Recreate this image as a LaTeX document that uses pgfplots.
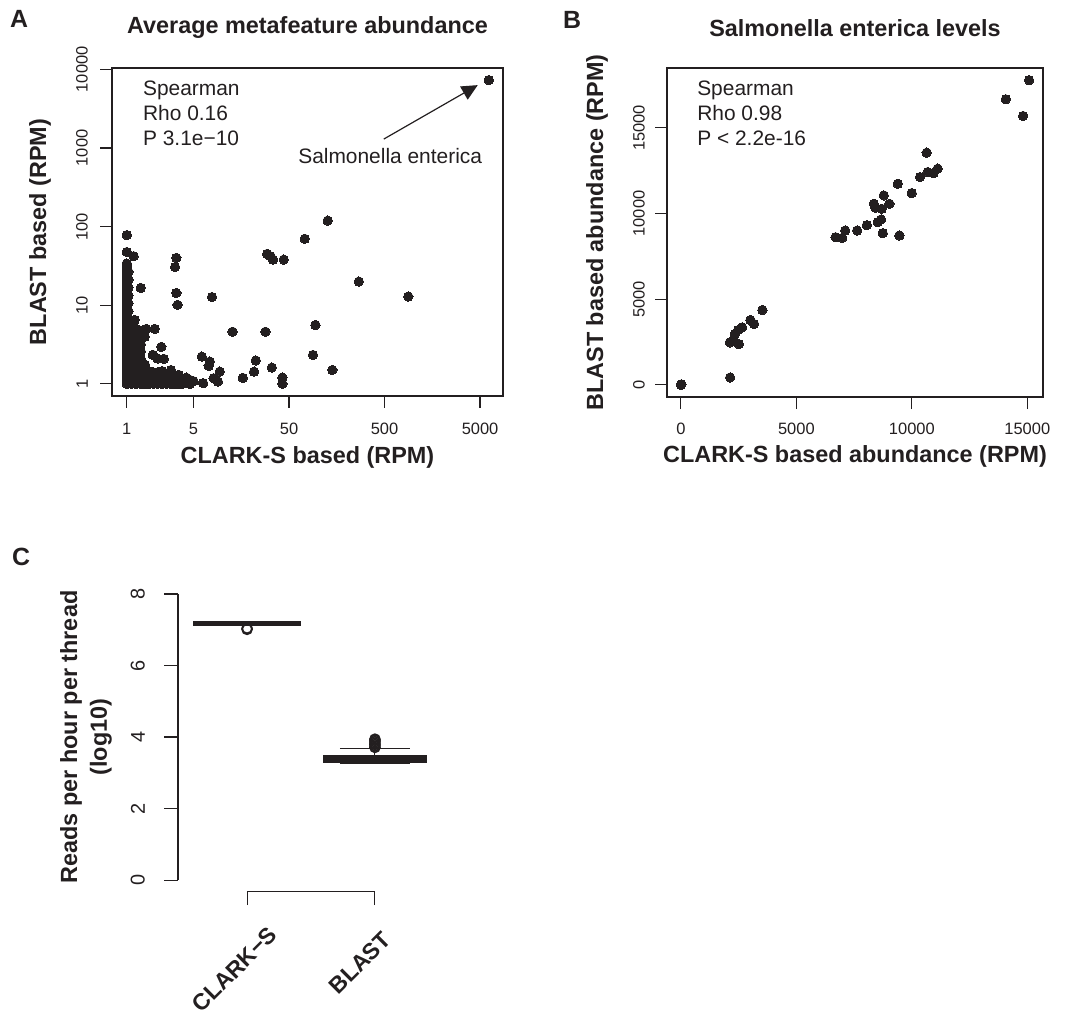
\documentclass[border=0pt]{standalone}
\usepackage{fontspec}
\setmainfont{Liberation Sans}
\usepackage{pgfplots}
\pgfplotsset{compat=1.18}
\usepgfplotslibrary{statistics}
\usetikzlibrary{arrows.meta}
\definecolor{ink}{RGB}{35,31,32}

\pgfplotsset{
  rstyle/.style={
    scale only axis,
    clip=false,
    axis line style={ink, line width=1.1bp},
    tick style={ink, line width=1.1bp},
    tick align=outside,
    major tick length=12bp,
    xtick pos=left, ytick pos=left,
    scaled ticks=false,
    ticklabel style={font=\fontsize{16.5}{19}\selectfont, inner sep=0pt, text=ink},
    yticklabel style={rotate=90, anchor=south},
    xticklabel style={anchor=north},
    label style={font=\bfseries\fontsize{23.5}{30}\selectfont, text=ink},
    title style={font=\bfseries\fontsize{23.5}{28}\selectfont, text=ink,
      at={(axis description cs:0.5,1.122)}, anchor=center, yshift=-6pt},
  },
  dots/.style={only marks, mark=*, mark size=4.7bp,
    mark options={draw=ink, fill=ink, line width=0bp}},
}
\tikzset{
  note/.style={anchor=base west, inner sep=0pt, text=ink,
    font=\fontsize{21}{25}\selectfont},
  panel/.style={inner sep=0pt, text=ink, font=\bfseries\fontsize{25}{28}\selectfont},
  cat/.style={rotate=45, anchor=east, inner sep=0pt, text=ink,
    font=\bfseries\fontsize{23}{26}\selectfont},
}

\begin{document}
\begin{tikzpicture}
\path[use as bounding box] (0,0) rectangle (1072bp,-1010bp);

% panel letters
\node[panel] at (19bp,-19bp) {A};
\node[panel] at (572bp,-20bp) {B};
\node[panel] at (21bp,-557bp) {C};

% ---------- A ----------
\begin{axis}[rstyle, at={(112bp,-396bp)}, anchor=south west,
  width=391bp, height=328bp,
  xmode=log, ymode=log,
  xmin=0.70, xmax=8700, ymin=0.70, ymax=10400,
  xtick={1,5,50,500,5000}, xticklabels={1,5,50,500,5000},
  ytick={1,10,100,1000,10000}, yticklabels={1,10,100,1000,10000},
  xminorticks=false, yminorticks=false,
  xticklabel shift=14.7bp, yticklabel shift=12bp,
  title={Average metafeature abundance},
  xlabel={CLARK-S based (RPM)}, ylabel={BLAST based (RPM)},
  xlabel style={at={(axis description cs:0.5,-0.186)}, anchor=center},
  ylabel style={at={(axis description cs:-0.184,0.5)}, anchor=center},
]
\addplot[dots] coordinates {
(1,1)(1,1.12)(1,1.26)(1,1.41)(1,1.58)(1,1.78)(1,2)(1,2.24)(1,2.51)(1,2.82)
(1,3.16)(1,3.55)(1,3.98)(1,4.47)(1,5.01)(1,5.62)(1,6.31)(1,7.08)(1,7.94)(1,8.91)
(1,10)(1,11.2)(1,12.6)(1,14.1)(1,15.8)(1,17.8)(1,20)(1,22.4)(1,25.1)(1,28.2)
(1,31.6)(1,34)(1,47.5)(1,78)
(1.04,1.06)(1.04,1.33)(1.04,1.68)(1.04,2.11)(1.04,2.66)(1.04,3.35)(1.04,4.22)
(1.04,5.31)(1.04,6.68)(1.04,8.41)(1.04,10.6)(1.04,13.3)(1.04,16.8)(1.04,21.1)(1.04,26.6)
(1.12,1)(1.12,1.2)(1.12,1.45)(1.12,1.75)(1.12,2.1)(1.12,2.5)(1.12,3)(1.12,3.6)
(1.12,4.3)(1.12,5.2)(1.12,6.3)
(1.25,1)(1.25,1.2)(1.25,1.45)(1.25,1.75)(1.25,2.1)(1.25,2.5)(1.25,3)(1.25,3.6)(1.25,4.3)
(1.4,1)(1.4,1.2)(1.4,1.45)(1.4,1.75)(1.4,2.1)(1.4,2.6)(1.4,3.2)
(1.55,1)(1.55,1.2)(1.55,1.45)(1.55,1.75)
(1.7,1)(1.7,1.2)(1.7,1.45)
(1.9,1)(1.9,1.2)(1.9,1.4)
(2.1,1)(2.1,1.2)(2.1,1.4)
(2.35,1)(2.35,1.2)(2.35,1.45)
(2.6,1)(2.6,1.2)
(2.9,1)(2.9,1.25)(2.9,1.5)
(3.2,1)(3.2,1.2)
(3.5,1)(3.5,1.3)
(3.85,1)(3.85,1.1)
(4.2,1.05)(4.2,1.2)
(4.6,1)(4.6,1.12)
(5,1.08)
(1.18,42)(1.21,6.5)(1.3,4.9)(1.6,5.0)(1.96,5.0)(1.54,3.96)(2.3,2.95)(1.87,2.34)
(2.1,2.1)(2.44,2.08)(1.3,2.3)(1.4,16.6)(3.3,40)(3.2,30.6)(3.3,14.3)(3.4,10.1)
(7.8,12.7)(6.1,2.22)(7.4,1.92)(7.2,1.69)(9.4,1.43)(8.1,1.18)(9.0,1.07)(6.3,1.02)
(12.8,4.6)(16.4,1.19)(21.5,1.43)(22.4,1.98)(28.3,4.6)(29.5,45)(32,42)(34,38)(44,38)
(33,1.61)(42.6,1.2)(42.6,1.0)(73,70)(127,119)(269,20)(887,12.9)(94.5,5.6)(89,2.33)
(142,1.5)(6170,7300)
};
\node[note] at (rel axis cs:0.079,0.915) {Spearman};
\node[note] at (rel axis cs:0.079,0.839) {Rho 0.16};
\node[note] at (rel axis cs:0.079,0.763) {P 3.1e−10};
\node[note] at (rel axis cs:0.476,0.709) {Salmonella enterica};
\draw[ink, line width=1.2bp, -{Triangle[length=16bp,width=15bp]}]
  (axis cs:491,1297) -- (axis cs:4732,6300);
\end{axis}

% ---------- B ----------
\begin{axis}[rstyle, at={(667bp,-397bp)}, anchor=south west,
  width=376bp, height=329bp,
  xmin=-603, xmax=15680, ymin=-711, ymax=18495,
  xtick={0,5000,10000,15000}, xticklabels={0,5000,10000,15000},
  ytick={0,5000,10000,15000}, yticklabels={0,5000,10000,15000},
  xticklabel shift=13.7bp, yticklabel shift=10bp,
  title={Salmonella enterica levels},
  xlabel={CLARK-S based abundance (RPM)}, ylabel={BLAST based abundance (RPM)},
  xlabel style={at={(axis description cs:0.5,-0.182)}, anchor=center},
  ylabel style={at={(axis description cs:-0.186,0.5)}, anchor=center},
]
\addplot[dots] coordinates {
(0,0)(20,30)(2131,429)(2117,2477)(2290,2613)(2506,2379)(2333,2964)(2477,3198)
(2650,3354)(3010,3783)(3168,3549)(3528,4368)(6696,8619)(6984,8580)(7114,9009)
(7632,9009)(8050,9321)(8352,10569)(8424,10335)(8525,9496)(8669,9652)(8698,10276)
(8741,8853)(8784,11057)(9029,10569)(9389,11739)(9461,8716)(9994,11193)(10354,12129)
(10642,13553)(10685,12422)(10944,12363)(11117,12617)(14069,16673)(14818,15698)
(15077,17784)
};
\node[note] at (rel axis cs:0.080,0.915) {Spearman};
\node[note] at (rel axis cs:0.080,0.840) {Rho 0.98};
\node[note] at (rel axis cs:0.080,0.764) {P < 2.2e-16};
\end{axis}

% ---------- C ----------
\begin{axis}[rstyle, at={(178bp,-891.5bp)}, anchor=south west,
  width=266bp, height=309bp,
  xmin=0.46, xmax=2.54, ymin=-0.32, ymax=8.32,
  axis x line*=bottom, axis y line*=left,
  axis line style={draw=none},
  tick align=outside, major tick length=13.5bp,
  xtick={1,2}, xticklabels={\empty,\empty},
  ytick={0,2,4,6,8}, yticklabels={0,2,4,6,8},
  ticklabel style={font=\fontsize{20}{23}\selectfont},
  yticklabel shift=19.5bp,
  ylabel={Reads per hour per thread\\(log10)},
  ylabel style={align=center, at={(axis description cs:-0.346,0.5)}, anchor=center},
]
\draw[ink, line width=1.1bp] (axis cs:0.46,0) -- (axis cs:0.46,8);
\draw[ink, line width=1.1bp] (axis cs:1,-0.32) -- (axis cs:2,-0.32);
\addplot[ink, line width=1.1bp, mark=o, mark size=5bp,
  mark options={line width=1.6bp},
  boxplot prepared={draw direction=y, draw position=1, median=7.17,
    lower quartile=7.155, upper quartile=7.185,
    lower whisker=7.14, upper whisker=7.2,
    box extend=0.84, whisker extend=0.5,
    every median/.style={line width=4.5bp}}]
  table[row sep=\\, y index=0] {data\\ 7.01\\ 7.04\\};
\addplot[ink, line width=1.1bp, mark=o, mark size=5bp,
  mark options={line width=1.6bp},
  boxplot prepared={draw direction=y, draw position=2, median=3.39,
    lower quartile=3.30, upper quartile=3.47,
    lower whisker=3.26, upper whisker=3.67,
    box extend=0.80, whisker extend=0.55,
    every median/.style={line width=3.6bp}}]
  table[row sep=\\, y index=0] {data\\ 3.71\\ 3.75\\ 3.79\\ 3.83\\ 3.87\\ 3.91\\ 3.94\\};
\node[cat] at (axis cs:1.205,-1.42) {CLARK−S};
\node[cat] at (axis cs:2.095,-1.56) {BLAST};
\end{axis}
\end{tikzpicture}
\end{document}
